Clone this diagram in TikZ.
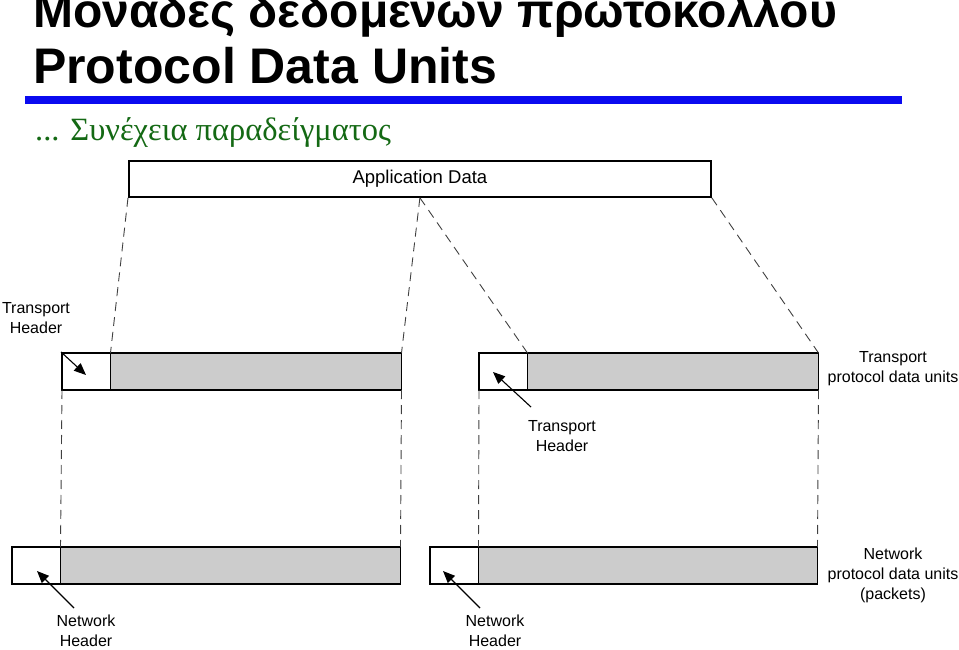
\documentclass[tikz,border=0pt]{standalone}
\usepackage{fontspec}
\setmainfont{Liberation Sans}
\newfontfamily\grserif{Liberation Serif}
\usetikzlibrary{arrows.meta}
\definecolor{subgreen}{RGB}{20,105,20}
\definecolor{barblue}{RGB}{10,10,240}
\definecolor{pdugray}{RGB}{204,204,204}
\tikzstyle{hdrbox}=[draw, line width=1.6pt, fill=white, inner sep=0pt, outer sep=0pt, anchor=north west, minimum width=48.5pt, minimum height=37pt]
\tikzstyle{databox}=[hdrbox, fill=pdugray]
\tikzstyle{guide}=[line width=0.9pt, draw=black!75, dash pattern=on 9pt off 6pt]
\tikzstyle{ptr}=[line width=1.1pt, -{Triangle[length=12pt,width=10pt]}]
\tikzstyle{lbl}=[align=center, inner sep=0pt, font=\fontsize{16}{20}\selectfont]

\begin{document}
\begin{tikzpicture}[x=1pt,y=-1pt]
\useasboundingbox (0,0) rectangle (959,650);
% heading
\node[anchor=base west, inner sep=0pt, font=\fontsize{48}{50}\selectfont\bfseries] (ttl1) at (33,28) {Μονάδες δεδομένων πρωτοκόλλου};
\node[anchor=base west, inner sep=0pt, font=\fontsize{50}{52}\selectfont\bfseries] (ttl2) at (33,84) {Protocol Data Units};
\fill[barblue] (25,96) rectangle (902,104);
\node[anchor=base west, inner sep=0pt, text=subgreen, font=\grserif\fontsize{32.5}{34}\selectfont] (sub) at (35,141) {... Συνέχεια παραδείγματος};
% application data
\node[draw, line width=1.8pt, inner sep=0pt, anchor=north west, minimum width=582pt, minimum height=36pt, font=\fontsize{18.5}{20}\selectfont] (app) at (128,160) {Application Data};
% transport and network PDUs
\foreach \n/\x/\y/\w in {t1/62/353/291, t2/479/353/291, n1/12/547/340, n2/430/547/339} {
	\node[hdrbox] (\n h) at (\x,\y) {};
	\node[databox, minimum width=\w pt] (\n d) at (\n h.north east) {};
}
\draw[guide] (app.south west) -- (t1d.north west);
\draw[guide] (app.south) -- (t1d.north east);
\draw[guide] (app.south) -- (t2d.north west);
\draw[guide] (app.south east) -- (t2d.north east);
\draw[guide] (t1h.south west) -- (n1d.north west);
\draw[guide] (t1d.south east) -- (n1d.north east);
\draw[guide] (t2h.south west) -- (n2d.north west);
\draw[guide] (t2d.south east) -- (n2d.north east);
% labels
\node[lbl] (thl1) at (36,318) {Transport\\Header};
\node[lbl] (thl2) at (562,436) {Transport\\Header};
\node[lbl] (tpdu) at (893,369) {Transport\\protocol data units};
\node[lbl] (nhl1) at (86,631) {Network\\Header};
\node[lbl] (nhl2) at (495,631) {Network\\Header};
\node[lbl] (npdu) at (893,575) {Network\\protocol data units\\(packets)};
\coordinate (thl1a) at (61,352);  \coordinate (thl1b) at (86,375);
\coordinate (thl2a) at (531,407); \coordinate (thl2b) at (493,372);
\coordinate (nhl1a) at (74,608);  \coordinate (nhl1b) at (37,571);
\coordinate (nhl2a) at (480,608); \coordinate (nhl2b) at (443,571);
\draw[ptr] (thl1a) -- (thl1b);
\draw[ptr] (thl2a) -- (thl2b);
\draw[ptr] (nhl1a) -- (nhl1b);
\draw[ptr] (nhl2a) -- (nhl2b);
\end{tikzpicture}
\end{document}
